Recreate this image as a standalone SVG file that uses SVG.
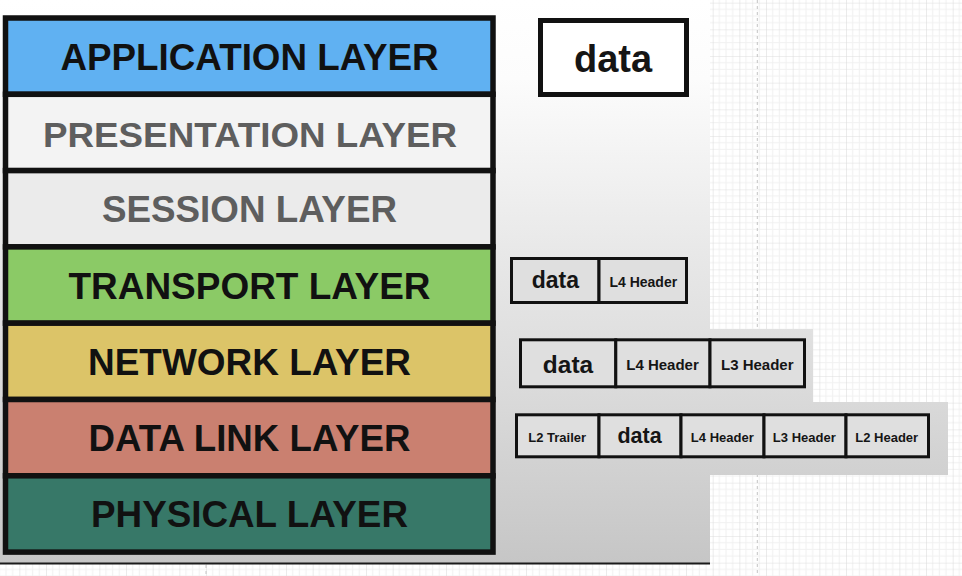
<svg xmlns="http://www.w3.org/2000/svg" width="962" height="576" viewBox="0 0 962 576">
<defs>
  <pattern id="grid" patternUnits="userSpaceOnUse" x="19.333" y="2.667" width="26.667" height="26.667">
    <rect width="26.667" height="26.667" fill="#ffffff"/>
    <path d="M6.667 0V26.667M13.333 0V26.667M20 0V26.667M0 6.667H26.667M0 13.333H26.667M0 20H26.667" stroke="#f1f1f1" stroke-width="1" fill="none"/>
    <path d="M0 0V26.667M0 0H26.667" stroke="#dedede" stroke-width="1.2" fill="none"/>
  </pattern>
  <linearGradient id="panelGrad" gradientUnits="userSpaceOnUse" x1="0" y1="0" x2="0" y2="563">
    <stop offset="0" stop-color="#ffffff"/>
    <stop offset="0.14" stop-color="#fcfcfc"/>
    <stop offset="0.45" stop-color="#e8e8e8"/>
    <stop offset="0.7" stop-color="#dadada"/>
    <stop offset="1" stop-color="#c6c6c6"/>
  </linearGradient>
  <style>
    .layer { stroke: #111111; stroke-width: 5.5; }
    .ltext { font-family: "Liberation Sans", Arial, sans-serif; font-weight: bold; font-size: 36px; text-anchor: middle; fill: #111111; }
    .gray { fill: #5e5e5e; }
    .cell { fill: #dfdfdf; stroke: #111111; stroke-width: 3; }
    .ptext { font-family: "Liberation Sans", Arial, sans-serif; font-weight: bold; text-anchor: middle; fill: #151515; }
    .dash { stroke: #c4c4c4; stroke-width: 1; stroke-dasharray: 3 3; }
  </style>
</defs>

<g id="background">
  <rect x="0" y="0" width="962" height="576" fill="url(#grid)"/>
  <line class="dash" x1="757.3" y1="0" x2="757.3" y2="576"/>
  <line class="dash" x1="206" y1="565" x2="206" y2="576"/>
  <path d="M0 0H710V329H813V402H948V475H710V563H0Z" fill="url(#panelGrad)"/>
  <line x1="0" y1="563.5" x2="710" y2="563.5" stroke="#1a1a1a" stroke-width="2"/>
</g>

<g id="layer-application">
  <rect class="layer" x="5.5" y="18" width="487.5" height="76.3" fill="#60b1f2"/>
  <text class="ltext" x="249.5" y="70" textLength="378" lengthAdjust="spacingAndGlyphs">APPLICATION LAYER</text>
</g>
<g id="layer-presentation">
  <rect class="layer" x="5.5" y="94.3" width="487.5" height="76.3" fill="#f3f3f3"/>
  <text class="ltext gray" x="250" y="147" style="font-size:35px" textLength="414" lengthAdjust="spacingAndGlyphs">PRESENTATION LAYER</text>
</g>
<g id="layer-session">
  <rect class="layer" x="5.5" y="170.6" width="487.5" height="76.3" fill="#ebebeb"/>
  <text class="ltext gray" x="249.5" y="222" textLength="295" lengthAdjust="spacingAndGlyphs">SESSION LAYER</text>
</g>
<g id="layer-transport">
  <rect class="layer" x="5.5" y="246.9" width="487.5" height="76.3" fill="#8bca66"/>
  <text class="ltext" x="249.5" y="299" textLength="362" lengthAdjust="spacingAndGlyphs">TRANSPORT LAYER</text>
</g>
<g id="layer-network">
  <rect class="layer" x="5.5" y="323.2" width="487.5" height="76.3" fill="#dcc468"/>
  <text class="ltext" x="249.5" y="375" textLength="323" lengthAdjust="spacingAndGlyphs">NETWORK LAYER</text>
</g>
<g id="layer-datalink">
  <rect class="layer" x="5.5" y="399.5" width="487.5" height="76.3" fill="#ca8070"/>
  <text class="ltext" x="249.5" y="451" textLength="322" lengthAdjust="spacingAndGlyphs">DATA LINK LAYER</text>
</g>
<g id="layer-physical">
  <rect class="layer" x="5.5" y="475.8" width="487.5" height="76.3" fill="#377868"/>
  <text class="ltext" x="249.5" y="527" textLength="317" lengthAdjust="spacingAndGlyphs">PHYSICAL LAYER</text>
</g>

<g id="packet-application">
  <rect x="540.5" y="20.5" width="146" height="74" fill="#ffffff" stroke="#111111" stroke-width="5"/>
  <text class="ptext" x="613" y="71.5" style="font-size:38px">data</text>
</g>

<g id="packet-transport">
  <rect class="cell" x="511.5" y="258.5" width="87.5" height="44"/>
  <rect class="cell" x="599" y="258.5" width="87.5" height="44"/>
  <text class="ptext" x="555.3" y="288" style="font-size:23px">data</text>
  <text class="ptext" x="643.3" y="286.5" style="font-size:14px">L4 Header</text>
</g>

<g id="packet-network">
  <rect class="cell" x="520.5" y="339.8" width="95.3" height="47"/>
  <rect class="cell" x="615.8" y="339.8" width="94.2" height="47"/>
  <rect class="cell" x="710" y="339.8" width="94.5" height="47"/>
  <text class="ptext" x="568" y="373" style="font-size:24.5px">data</text>
  <text class="ptext" x="662.5" y="370" style="font-size:15px">L4 Header</text>
  <text class="ptext" x="757.3" y="370" style="font-size:15px">L3 Header</text>
</g>

<g id="packet-datalink">
  <rect class="cell" x="516.5" y="414.8" width="82.5" height="42"/>
  <rect class="cell" x="599" y="414.8" width="82" height="42"/>
  <rect class="cell" x="681" y="414.8" width="83" height="42"/>
  <rect class="cell" x="764" y="414.8" width="82" height="42"/>
  <rect class="cell" x="846" y="414.8" width="82.5" height="42"/>
  <text class="ptext" x="557.2" y="441.5" style="font-size:13px">L2 Trailer</text>
  <text class="ptext" x="639.5" y="443" style="font-size:21.5px">data</text>
  <text class="ptext" x="722.3" y="441.5" style="font-size:13px">L4 Header</text>
  <text class="ptext" x="804.3" y="441.5" style="font-size:13px">L3 Header</text>
  <text class="ptext" x="886.7" y="441.5" style="font-size:13px">L2 Header</text>
</g>
</svg>
